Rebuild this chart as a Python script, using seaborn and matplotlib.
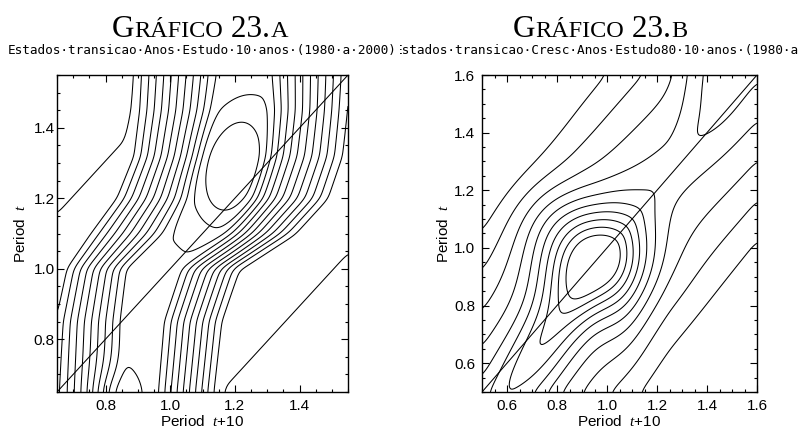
import numpy as np
import matplotlib
matplotlib.use("Agg")
import matplotlib.pyplot as plt
import seaborn as sns
from matplotlib.ticker import FixedLocator, MultipleLocator
from matplotlib.transforms import IdentityTransform, Bbox, TransformedBbox

# ---------------- data: panel A ----------------
A_title = [("G", "big"), ("RÁFICO", "small"), (" 23.", "big"), ("A", "small")]
A_subtitle = "Estados·transicao·Anos·Estudo·10·anos·(1980·a·2000)"
A_range = [0.65, 1.55]
A_ticks = [0.8, 1.0, 1.2, 1.4]
A_tick_labels = ["0.8", "1.0", "1.2", "1.4"]
A_levels = list(range(1, 15))
# density ridge (per period t)
A_knot_y     = [0.60, 0.85, 1.00, 1.10, 1.20, 1.32, 1.45, 1.60]
A_left_zero  = [0.63, 0.64, 0.67, 0.74, 0.82, 0.87, 0.88, 0.88]
A_left_top   = [0.86, 0.86, 0.88, 1.00, 1.07, 1.11, 1.14, 1.15]
A_right_top  = [0.95, 0.97, 1.02, 1.15, 1.24, 1.28, 1.30, 1.30]
A_right_zero = [1.15, 1.17, 1.22, 1.40, 1.50, 1.54, 1.55, 1.56]
A_height     = [10.1, 9.9, 10.0, 10.2, 10.6, 10.9, 11.0, 11.0]
# bumps: x, y, sx, sy, rho, amplitude
A_bump_x   = [1.19, 0.83]
A_bump_y   = [1.28, 0.62]
A_bump_sx  = [0.07, 0.05]
A_bump_sy  = [0.11, 0.06]
A_bump_rho = [0.30, 0.00]
A_bump_amp = [3.0, 1.8]
A_band_offset = 0.0
A_band_sd = 0.33
A_band_amp = 1.8

# ---------------- data: panel B ----------------
B_title = [("G", "big"), ("RÁFICO", "small"), (" 23.", "big"), ("B", "small")]
B_subtitle = "Estados·transicao·Cresc·Anos·Estudo80·10·anos·(1980·a·2000)"
B_range = [0.5, 1.6]
B_ticks = [0.6, 0.8, 1.0, 1.2, 1.4, 1.6]
B_tick_labels = ["0.6", "0.8", "1.0", "1.2", "1.4", "1.6"]
B_levels = list(range(1, 11))
# ridge centre line y = y0 + slope * (x - 1)
B_ridge_y0 = 0.975
B_ridge_slope = 1.15
B_ridge_halfwidth = 0.78
B_ridge_knot_x = [0.50, 0.90, 1.25, 1.60]
B_ridge_height = [5.8, 5.5, 4.6, 5.6]
# bumps: x, y, sx, sy, rho, amplitude
B_bump_x   = [0.945, 0.78, 1.40, 0.80, 1.06]
B_bump_y   = [0.96, 0.72, 1.68, 1.10, 0.84]
B_bump_sx  = [0.15, 0.16, 0.08, 0.12, 0.07]
B_bump_sy  = [0.12, 0.22, 0.15, 0.09, 0.16]
B_bump_rho = [0.0, 0.80, 0.0, 0.0, 0.0]
B_bump_amp = [5.3, 2.6, 1.4, 1.0, 1.0]

XLABEL = "Period  $t$+10"
YLABEL = "Period  $t$"


def gauss(X, Y, mx, my, sx, sy, rho, amp):
    u = (X - mx) / sx
    v = (Y - my) / sy
    z = (u * u - 2 * rho * u * v + v * v) / (1 - rho ** 2)
    return amp * np.exp(-0.5 * z)


def blur(Z, sigma):
    r = int(3 * sigma)
    k = np.exp(-0.5 * (np.arange(-r, r + 1) / sigma) ** 2)
    k /= k.sum()
    P = np.pad(Z, r, mode="edge")
    P = np.apply_along_axis(lambda m: np.convolve(m, k, mode="valid"), 0, P)
    P = np.apply_along_axis(lambda m: np.convolve(m, k, mode="valid"), 1, P)
    return P


def surface_A():
    g = np.linspace(A_range[0], A_range[1], 241)
    X, Y = np.meshgrid(g, g)
    lz = np.interp(Y, A_knot_y, A_left_zero)
    lt = np.interp(Y, A_knot_y, A_left_top)
    rt = np.interp(Y, A_knot_y, A_right_top)
    rz = np.interp(Y, A_knot_y, A_right_zero)
    h = np.interp(Y, A_knot_y, A_height)
    left = (X - lz) / (lt - lz)
    right = (rz - X) / (rz - rt)
    Z = h * np.clip(np.minimum(left, right), 0, 1)
    d = (Y - X - A_band_offset) / np.sqrt(2)
    Z = Z + A_band_amp * np.exp(-0.5 * (d / A_band_sd) ** 2)
    for i in range(len(A_bump_x)):
        Z = Z + gauss(X, Y, A_bump_x[i], A_bump_y[i], A_bump_sx[i], A_bump_sy[i], A_bump_rho[i], A_bump_amp[i])
    return X, Y, blur(Z, 3)


def surface_B():
    g = np.linspace(B_range[0], B_range[1], 241)
    X, Y = np.meshgrid(g, g)
    v = Y - (B_ridge_y0 + B_ridge_slope * (X - 1.0))
    h = np.interp(X, B_ridge_knot_x, B_ridge_height)
    Z = h * np.clip(1 - np.abs(v) / B_ridge_halfwidth, 0, 1)
    for i in range(len(B_bump_x)):
        Z = Z + gauss(X, Y, B_bump_x[i], B_bump_y[i], B_bump_sx[i], B_bump_sy[i], B_bump_rho[i], B_bump_amp[i])
    return X, Y, blur(Z, 4)


sns.set_theme(style="white")
plt.rcParams["font.family"] = ["Liberation Sans", "DejaVu Sans"]
plt.rcParams["mathtext.fontset"] = "custom"
plt.rcParams["mathtext.rm"] = "Liberation Sans"
plt.rcParams["mathtext.it"] = "Liberation Serif:italic"

fig = plt.figure(figsize=(7.98, 4.30), dpi=100)
fig.patch.set_facecolor("white")
W, H = 798.0, 430.0

axA = fig.add_axes([57 / W, (H - 392) / H, 291 / W, 317 / H])
axB = fig.add_axes([482 / W, (H - 392) / H, 275 / W, 317 / H])

panels = [
    (axA, surface_A, A_range, A_ticks, A_tick_labels, A_levels, 1.5, 4.0),
    (axB, surface_B, B_range, B_ticks, B_tick_labels, B_levels, 5.0, 2.0),
]
for ax, surf, rng, ticks, labels, levels, ypad, ylabpad in panels:
    X, Y, Z = surf()
    ax.contour(X, Y, Z, levels=levels, colors="black", linewidths=0.75)
    sns.lineplot(x=rng, y=rng, ax=ax, color="black", linewidth=0.75)
    ax.set_xlim(rng)
    ax.set_ylim(rng)
    ax.xaxis.set_major_locator(FixedLocator(ticks))
    ax.yaxis.set_major_locator(FixedLocator(ticks))
    ax.set_xticklabels(labels)
    ax.set_yticklabels(labels)
    ax.xaxis.set_minor_locator(MultipleLocator(0.05))
    ax.yaxis.set_minor_locator(MultipleLocator(0.05))
    ax.tick_params(which="both", direction="in", top=True, right=True,
                   bottom=True, left=True, color="black", width=0.8,
                   labelsize=11, labelcolor="black")
    ax.tick_params(which="major", length=5)
    ax.tick_params(which="minor", length=2.5)
    ax.tick_params(axis="x", pad=5)
    ax.tick_params(axis="y", pad=ypad)
    for s in ax.spines.values():
        s.set_color("black")
        s.set_linewidth(1.0)
    ax.set_xlabel(XLABEL, fontsize=11, color="black", labelpad=1)
    ax.set_ylabel(YLABEL, fontsize=11, color="black", labelpad=ylabpad)
    ax.set_facecolor("white")

# titles with small capitals
renderer = fig.canvas.get_renderer()
sizes = {"big": 22.5, "small": 17.5}


def draw_title(parts, cx, base):
    texts = []
    for s, kind in parts:
        t = fig.text(0, base, s, fontsize=sizes[kind], family="Liberation Serif",
                     va="baseline", ha="left", transform=IdentityTransform(), color="black")
        texts.append(t)
    widths = [t.get_window_extent(renderer).width for t in texts]
    x = cx - sum(widths) / 2
    for t, w in zip(texts, widths):
        t.set_x(x)
        x += w


draw_title(A_title, 200, H - 37)
draw_title(B_title, 600, H - 37)

fig.text(202.5, H - 54, A_subtitle, fontsize=9.2, family="DejaVu Sans Mono",
         ha="center", va="baseline", transform=IdentityTransform(), color="black")
tb = fig.text(619.5, H - 54, B_subtitle, fontsize=9.2, family="DejaVu Sans Mono",
              ha="center", va="baseline", transform=IdentityTransform(), color="black")
tb.set_clip_box(TransformedBbox(Bbox([[400, 0], [798, 430]]), IdentityTransform()))
tb.set_clip_on(True)

fig.savefig("out.png", dpi=100, facecolor="white")
